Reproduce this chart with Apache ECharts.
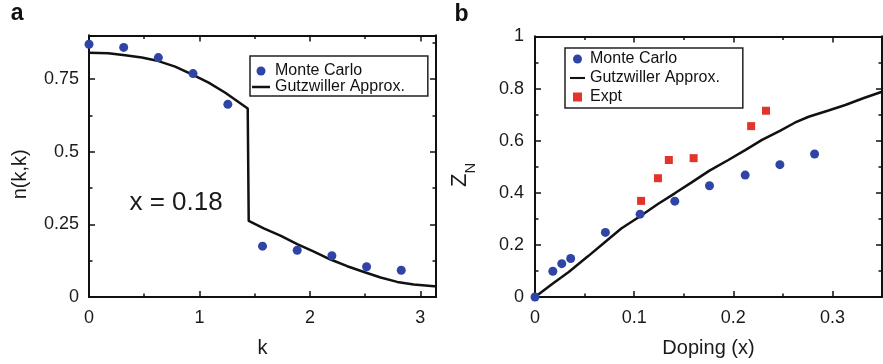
<!DOCTYPE html>
<html>
<head>
<meta charset="utf-8">
<script src="https://cdn.jsdelivr.net/npm/echarts@6/dist/echarts.min.js"></script>
<style>
html,body{margin:0;padding:0;background:#ffffff;}
#chart{width:883px;height:364px;}
</style>
</head>
<body>
<div id="chart"></div>
<script>
// ---------- Panel a: n(k,k) vs k (x = 0.18) ----------
const kMonteCarloA = [0, 0.314, 0.628, 0.942, 1.257, 1.571, 1.885, 2.199, 2.513, 2.827];
const nMonteCarloA = [0.870, 0.859, 0.824, 0.769, 0.663, 0.175, 0.161, 0.142, 0.104, 0.092];

const kGutzwillerA = [0, 0.175, 0.327, 0.478, 0.629, 0.780, 0.932, 1.083, 1.234, 1.437,
                      1.446, 1.582, 1.733, 1.885, 2.036, 2.187, 2.338, 2.490, 2.640, 2.790, 2.940, 3.125, 3.1416];
const nGutzwillerA = [0.841, 0.839, 0.832, 0.824, 0.812, 0.793, 0.766, 0.738, 0.703, 0.649,
                      0.262, 0.236, 0.211, 0.182, 0.156, 0.129, 0.106, 0.086, 0.067, 0.052, 0.043, 0.037, 0.037];

const annotationA = { text: 'x = 0.18', k: 0.788, n: 0.325 };

// ---------- Panel b: Z_N vs doping ----------
const dopingMonteCarloB = [0, 0.018, 0.027, 0.036, 0.071, 0.106, 0.141, 0.176, 0.212, 0.247, 0.282];
const zMonteCarloB      = [0, 0.099, 0.128, 0.148, 0.248, 0.318, 0.368, 0.427, 0.468, 0.508, 0.549];

const dopingGutzwillerB = [0, 0.017, 0.034, 0.054, 0.071, 0.087, 0.106, 0.124, 0.141, 0.158, 0.176,
                           0.195, 0.212, 0.229, 0.247, 0.262, 0.276, 0.296, 0.313, 0.331, 0.35];
const zGutzwillerB      = [0, 0.049, 0.096, 0.158, 0.212, 0.263, 0.310, 0.357, 0.398, 0.440, 0.485,
                           0.526, 0.564, 0.603, 0.638, 0.669, 0.692, 0.716, 0.737, 0.763, 0.788];

const dopingExptB = [0.107, 0.124, 0.135, 0.160, 0.218, 0.233];
const zExptB      = [0.369, 0.456, 0.526, 0.533, 0.656, 0.715];

// ---------- Axis ranges / ticks ----------
const axisA = { xMin: 0, xMax: Math.PI, xMajor: 1, xMinor: 0.5, yMin: 0, yMax: 0.9, yMajor: 0.25, yMinor: 0.125 };
const axisB = { xMin: 0, xMax: 0.35, xMajor: 0.1, xMinor: 0.05, yMin: 0, yMax: 1, yMajor: 0.2, yMinor: 0.1 };

const FONT = '"Liberation Sans", Arial, Helvetica, sans-serif';
const INK = '#111111';
const BLUE = '#2f45a6';
const RED = '#e2342b';

function pairs(xs, ys) { return xs.map((x, i) => [x, ys[i]]); }

function frameAxes(isX, grid, min, max, major, minor, main) {
  const pos = isX ? ['bottom', 'top'] : ['left', 'right'];
  const base = (position, interval, tickLen, showLine, label) => ({
    type: 'value', gridIndex: grid, position: position, min: min, max: max, interval: interval,
    splitLine: { show: false },
    axisLine: { show: showLine, onZero: false, lineStyle: { color: INK, width: 2, cap: 'square' } },
    axisTick: { show: true, inside: true, length: tickLen, lineStyle: { color: INK, width: 1.5 } },
    axisLabel: label ? Object.assign({ show: true, fontFamily: FONT, fontSize: 18, color: '#1a1a1a' }, label) : { show: false }
  });
  const a0 = Object.assign(base(pos[0], major, 6, true, main.label), main.nameOpts || {});
  const a1 = base(pos[0], minor, 3.5, false, null);
  const a2 = base(pos[1], major, 6, true, null);
  const a3 = base(pos[1], minor, 3.5, false, null);
  return [a0, a1, a2, a3];
}

const nameStyle = { fontFamily: FONT, fontSize: 20, color: '#1a1a1a' };

const xAxes = [].concat(
  frameAxes(true, 0, axisA.xMin, axisA.xMax, axisA.xMajor, axisA.xMinor, {
    label: { margin: 12, showMaxLabel: false },
    nameOpts: { name: 'k', nameLocation: 'middle', nameGap: 41, nameTextStyle: nameStyle }
  }),
  frameAxes(true, 1, axisB.xMin, axisB.xMax, axisB.xMajor, axisB.xMinor, {
    label: { margin: 12, showMaxLabel: false },
    nameOpts: { name: 'Doping (x)', nameLocation: 'middle', nameGap: 41, nameTextStyle: nameStyle }
  })
);
const yAxes = [].concat(
  frameAxes(false, 0, axisA.yMin, axisA.yMax, axisA.yMajor, axisA.yMinor, {
    label: { margin: 10, showMaxLabel: false },
    nameOpts: { name: 'n(k,k)', nameLocation: 'middle', nameGap: 59,
      nameTextStyle: Object.assign({}, nameStyle, { padding: [0, 16, 0, 0] }) }
  }),
  frameAxes(false, 1, axisB.yMin, axisB.yMax, axisB.yMajor, axisB.yMinor, {
    label: { margin: 11, showMaxLabel: true },
    nameOpts: { name: '{z|Z}{n|N}', nameLocation: 'middle', nameGap: 57,
      nameTextStyle: {
        fontFamily: FONT, color: '#1a1a1a', padding: [0, 16, 0, 0],
        rich: {
          z: { fontFamily: FONT, fontSize: 22, color: '#1a1a1a', verticalAlign: 'top' },
          n: { fontFamily: FONT, fontSize: 15, color: '#1a1a1a', padding: [14, 0, 0, 0], verticalAlign: 'top' }
        }
      } }
  })
);

const lineIcon = 'path://M0,0H36V5H0Z';
const squareIcon = 'path://M0,0H10V10H0Z';
const legendText = { fontFamily: FONT, fontSize: 16, color: '#111' };

const option = {
  animation: false,
  backgroundColor: '#ffffff',
  grid: [
    { left: 89, top: 35.5, width: 347, height: 261.5 },
    { left: 535, top: 36.5, width: 347, height: 260.5 }
  ],
  xAxis: xAxes,
  yAxis: yAxes,
  legend: [
    {
      orient: 'vertical', left: 250, top: 56, itemWidth: 18, itemHeight: 9, itemGap: 0,
      padding: [7, 23, 1, 2], borderColor: '#222', borderWidth: 1.5, backgroundColor: '#fff',
      textStyle: legendText, selectedMode: false,
      data: [{ name: 'Monte Carlo', icon: 'circle' }, { name: 'Gutzwiller Approx.', icon: lineIcon }]
    },
    {
      orient: 'vertical', left: 565, top: 48, itemWidth: 15, itemHeight: 9, itemGap: 3,
      padding: [3, 23, 3, 5], borderColor: '#222', borderWidth: 1.5, backgroundColor: '#fff',
      textStyle: legendText, selectedMode: false,
      data: [{ name: 'Monte Carlo', icon: 'circle' }, { name: 'Gutzwiller Approx.', icon: lineIcon },
             { name: 'Expt', icon: squareIcon }]
    }
  ],
  graphic: [
    { type: 'text', left: 10.8, top: 2, style: { text: 'a', font: 'bold 23px ' + FONT, fill: '#111' } },
    { type: 'text', left: 454.4, top: 3, style: { text: 'b', font: 'bold 23px ' + FONT, fill: '#111' } }
  ],
  series: [
    {
      name: 'Gutzwiller Approx.', type: 'line', xAxisIndex: 0, yAxisIndex: 0,
      data: pairs(kGutzwillerA, nGutzwillerA), symbol: 'none', smooth: false,
      lineStyle: { color: INK, width: 2.5 }, itemStyle: { color: INK }, z: 3
    },
    {
      name: 'Monte Carlo', type: 'scatter', xAxisIndex: 0, yAxisIndex: 0,
      data: pairs(kMonteCarloA, nMonteCarloA), symbol: 'circle', symbolSize: 9,
      itemStyle: { color: BLUE, opacity: 1 }, z: 4,
      markPoint: {
        symbol: 'circle', symbolSize: 1, silent: true,
        itemStyle: { color: 'rgba(0,0,0,0)' },
        label: { show: true, position: 'inside', formatter: annotationA.text,
                 fontFamily: FONT, fontSize: 26, color: '#1a1a1a' },
        data: [{ coord: [annotationA.k, annotationA.n], value: annotationA.text }]
      }
    },
    {
      name: 'Gutzwiller Approx.', type: 'line', xAxisIndex: 4, yAxisIndex: 4,
      data: pairs(dopingGutzwillerB, zGutzwillerB), symbol: 'none', smooth: false,
      lineStyle: { color: INK, width: 2.5 }, itemStyle: { color: INK }, z: 3
    },
    {
      name: 'Monte Carlo', type: 'scatter', xAxisIndex: 4, yAxisIndex: 4,
      data: pairs(dopingMonteCarloB, zMonteCarloB), symbol: 'circle', symbolSize: 9,
      itemStyle: { color: BLUE, opacity: 1 }, z: 4, clip: false
    },
    {
      name: 'Expt', type: 'scatter', xAxisIndex: 4, yAxisIndex: 4,
      data: pairs(dopingExptB, zExptB), symbol: 'rect', symbolSize: 8,
      itemStyle: { color: RED, opacity: 1 }, z: 4
    }
  ]
};

const chart = echarts.init(document.getElementById('chart'), null, { renderer: 'canvas' });
chart.setOption(option);
</script>
</body>
</html>
